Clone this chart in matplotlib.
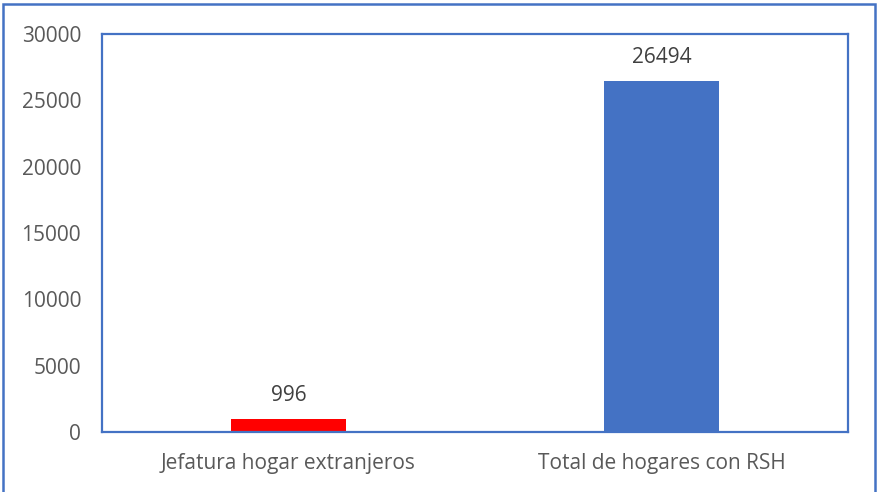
import matplotlib.pyplot as plt
from matplotlib.patches import Rectangle

categories = ['Jefatura hogar extranjeros', 'Total de hogares con RSH']
values = [996, 26494]
colors = ['#FF0000', '#4472C4']
yticks = [0, 5000, 10000, 15000, 20000, 25000, 30000]

plt.rcParams['font.family'] = ['Open Sans', 'DejaVu Sans']

fig = plt.figure(figsize=(8.78, 4.92), dpi=100)
ax = fig.add_axes([102 / 878, 60 / 492, 746 / 878, 398 / 492])

x = range(len(categories))
bars = ax.bar(x, values, width=0.31, color=colors)
for b, v in zip(bars, values):
    ax.annotate(str(v), (b.get_x() + b.get_width() / 2, v), xytext=(0, 9),
                textcoords='offset points', ha='center', va='bottom',
                fontsize=15, color='#404040')

ax.set_xlim(-0.5, 1.5)
ax.set_ylim(0, 30000)
ax.set_yticks(yticks)
ax.set_yticklabels([str(t) for t in yticks])
ax.set_xticks(list(x))
ax.set_xticklabels(categories)
ax.tick_params(axis='both', length=0, labelsize=15, labelcolor='#595959')
ax.tick_params(axis='y', pad=15)
ax.tick_params(axis='x', pad=15)
for s in ax.spines.values():
    s.set_color('#4472C4')
    s.set_linewidth(1.6)

# outer frame around the whole chart
fig.patches.append(Rectangle((2.5 / 878, -0.05), 873 / 878, 1.05 - 3.5 / 492,
                             transform=fig.transFigure, fill=False,
                             edgecolor='#4472C4', linewidth=1.8, clip_on=False))

fig.savefig('out.png', dpi=100)
